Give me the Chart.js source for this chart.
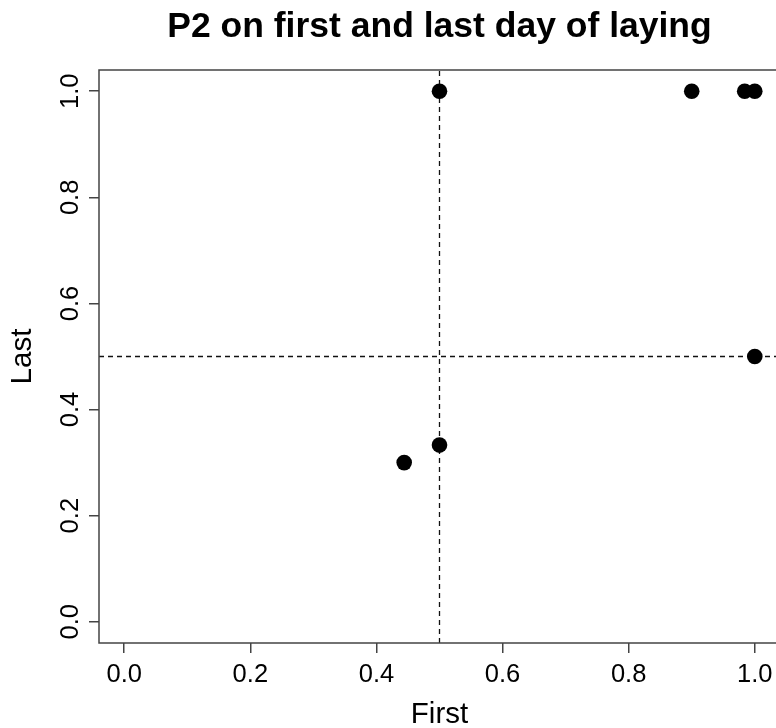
<!DOCTYPE html>
<html lang="en">
<head>
  <meta charset="UTF-8" />
  <title>P2 on first and last day of laying</title>
  <script src="https://cdn.jsdelivr.net/npm/chart.js@4.4.1/dist/chart.umd.min.js"></script>
  <style>
    html, body { margin: 0; padding: 0; background: #fff; overflow: hidden; }
    #chart { display: block; }
  </style>
</head>
<body>
  <canvas id="chart" width="790" height="728"></canvas>

  <script>
    // --- data ---
    const firstDay = [0.5, 0.9, 0.984, 1.0, 1.0, 0.5, 0.444];
    const lastDay  = [1.0, 1.0, 1.0, 1.0, 0.5, 0.333, 0.3];
    const xTickLabels = ['0.0', '0.2', '0.4', '0.6', '0.8', '1.0'];
    const yTickLabels = ['0.0', '0.2', '0.4', '0.6', '0.8', '1.0'];
    const axisLimits = [-0.04, 1.04];
    const refLine = 0.5;

    const FONT = '"Liberation Sans", Arial, sans-serif';
    const AXIS_COLOR = '#444';

    const points = firstDay.map((x, i) => ({ x: x, y: lastDay[i] }));

    // R-style y tick labels (rotated, reading upwards)
    const yTickText = {
      id: 'yTickText',
      afterDraw(chart) {
        const y = chart.scales.y, ctx = chart.ctx;
        ctx.save();
        ctx.font = '25.5px ' + FONT;
        ctx.fillStyle = '#000';
        ctx.textAlign = 'center';
        ctx.textBaseline = 'alphabetic';
        y.ticks.forEach((t, i) => {
          ctx.save();
          ctx.translate(y.right - 21, y.getPixelForValue(t.value));
          ctx.rotate(-Math.PI / 2);
          ctx.fillText(yTickLabels[i], 0, 0);
          ctx.restore();
        });
        ctx.restore();
      }
    };

    // box around the plot region (right side falls outside the window)
    const plotBox = {
      id: 'plotBox',
      afterDraw(chart) {
        const a = chart.chartArea, ctx = chart.ctx;
        ctx.save();
        ctx.strokeStyle = AXIS_COLOR;
        ctx.lineWidth = 1.5;
        ctx.beginPath();
        ctx.moveTo(chart.width, a.top);
        ctx.lineTo(a.left, a.top);
        ctx.lineTo(a.left, a.bottom);
        ctx.lineTo(chart.width, a.bottom);
        ctx.stroke();
        ctx.restore();
      }
    };

    new Chart(document.getElementById('chart'), {
      type: 'scatter',
      data: {
        datasets: [
          {
            data: points,
            backgroundColor: '#000',
            borderWidth: 0,
            pointRadius: 7.8
          },
          {
            data: [{ x: refLine, y: axisLimits[0] }, { x: refLine, y: axisLimits[1] }],
            showLine: true,
            borderColor: '#111',
            borderWidth: 1.3,
            borderDash: [5, 4],
            pointRadius: 0
          },
          {
            data: [{ x: axisLimits[0], y: refLine }, { x: axisLimits[1], y: refLine }],
            showLine: true,
            borderColor: '#111',
            borderWidth: 1.3,
            borderDash: [5, 4],
            pointRadius: 0
          }
        ]
      },
      options: {
        responsive: false,
        animation: false,
        devicePixelRatio: 1,
        layout: { padding: { top: 0, right: 10, bottom: 0, left: 0 } },
        plugins: {
          legend: { display: false },
          tooltip: { enabled: false },
          title: {
            display: true,
            fullSize: false,
            text: 'P2 on first and last day of laying',
            color: '#000',
            font: { family: FONT, size: 35.5, weight: 'bold', lineHeight: 1.2 },
            padding: { top: 6.3, bottom: 21.1 }
          }
        },
        scales: {
          x: {
            type: 'linear',
            min: axisLimits[0],
            max: axisLimits[1],
            afterFit: s => { s.height = 85; },
            border: { display: false },
            grid: {
              drawOnChartArea: false,
              drawTicks: true,
              tickLength: 10,
              color: AXIS_COLOR,
              lineWidth: 1.5
            },
            ticks: {
              stepSize: 0.2,
              includeBounds: false,
              padding: 7,
              color: '#000',
              font: { family: FONT, size: 25.5, lineHeight: 1.2 },
              maxRotation: 0,
              callback: (v, i) => xTickLabels[i]
            },
            title: {
              display: true,
              text: 'First',
              color: '#000',
              font: { family: FONT, size: 29.5, lineHeight: 0.9 },
              padding: { top: 0, bottom: 0 }
            }
          },
          y: {
            type: 'linear',
            min: axisLimits[0],
            max: axisLimits[1],
            afterFit: s => { s.width = 99; },
            border: { display: false },
            grid: {
              drawOnChartArea: false,
              drawTicks: true,
              tickLength: 10,
              color: AXIS_COLOR,
              lineWidth: 1.5
            },
            ticks: {
              stepSize: 0.2,
              includeBounds: false,
              display: false
            },
            title: {
              display: true,
              text: 'Last',
              color: '#000',
              font: { family: FONT, size: 29.5, lineHeight: 0.9 },
              padding: { top: 9.4, bottom: 0 }
            }
          }
        }
      },
      plugins: [yTickText, plotBox]
    });
  </script>
</body>
</html>
